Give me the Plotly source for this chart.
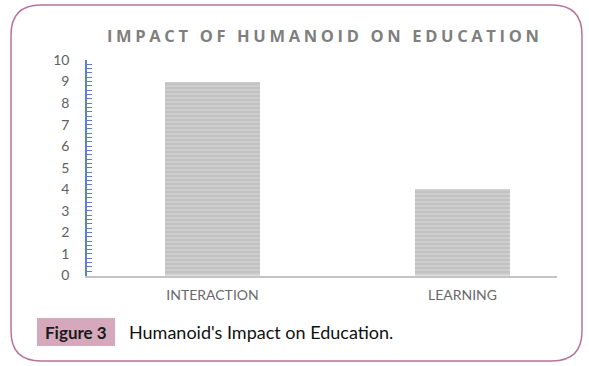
import plotly.graph_objects as go

categories = ["INTERACTION", "LEARNING"]
values = [9, 4]
title_text = "IMPACT OF HUMANOID ON EDUCATION"
fig_label = "Figure 3"
caption = "Humanoid's Impact on Education."

W, H = 589, 366
def px(x): return x / W
def py(y): return 1 - y / H

FONT = "Lato"

fig = go.Figure()
fig.add_trace(go.Bar(
    x=categories, y=values, width=0.38,
    marker=dict(color="#c6c6c6",
                pattern=dict(shape="-", fgcolor="#e2e2e2", bgcolor="#c2c2c2", size=4, solidity=0.4),
                line=dict(width=0)),
    hoverinfo="skip",
))

# rounded frame
r = 30
x0, x1, y0, y1 = 11, 582, 5, 361
rx, ry = r / W, r / H
path = (f"M {px(x0)+rx},{py(y0)} L {px(x1)-rx},{py(y0)} Q {px(x1)},{py(y0)} {px(x1)},{py(y0)-ry} "
        f"L {px(x1)},{py(y1)+ry} Q {px(x1)},{py(y1)} {px(x1)-rx},{py(y1)} "
        f"L {px(x0)+rx},{py(y1)} Q {px(x0)},{py(y1)} {px(x0)},{py(y1)+ry} "
        f"L {px(x0)},{py(y0)-ry} Q {px(x0)},{py(y0)} {px(x0)+rx},{py(y0)} Z")
fig.add_shape(type="path", path=path, xref="paper", yref="paper",
              line=dict(color="#b9739a", width=1.5), fillcolor="rgba(0,0,0,0)", layer="below")
# caption box
fig.add_shape(type="rect", xref="paper", yref="paper",
              x0=px(37), x1=px(115), y0=py(346), y1=py(318),
              fillcolor="#d5a8bb", line=dict(width=0), layer="below")

fig.add_annotation(text=f'<span style="letter-spacing:3.65px">{title_text}</span>',
                   x=px(325), y=py(35), xref="paper", yref="paper", showarrow=False,
                   xanchor="center", yanchor="middle",
                   font=dict(family="Open Sans", size=16.5, color="#7f7f7f", weight="bold"))
fig.add_annotation(text=f"<b>{fig_label}</b>", x=px(76), y=py(332), xref="paper", yref="paper",
                   showarrow=False, xanchor="center", yanchor="middle",
                   font=dict(family=FONT, size=17, color="#1a1a1a"))
fig.add_annotation(text=caption, x=px(127), y=py(332), xref="paper", yref="paper",
                   showarrow=False, xanchor="left", yanchor="middle",
                   font=dict(family=FONT, size=18, color="#111111"))

fig.update_layout(
    width=W, height=H, margin=dict(l=0, r=0, t=0, b=0),
    paper_bgcolor="white", plot_bgcolor="white", showlegend=False,
    bargap=0,
    xaxis=dict(domain=[px(87), px(557)], range=[-0.502, 1.378], type="category",
               automargin=False,
               showline=True, linecolor="#c4c4c4", linewidth=2, showgrid=False, zeroline=False,
               ticks="", tickfont=dict(family=FONT, size=14, color="#6a6a6a"),
               ticklabelstandoff=6),
    yaxis=dict(domain=[py(275.5), py(60)], range=[0, 10], dtick=1,
               automargin=False,
               showline=True, linecolor="#5b84c8", linewidth=1.5, showgrid=False, zeroline=False,
               ticks="inside", ticklen=5, tickcolor="#5b84c8", tickwidth=1,
               minor=dict(dtick=0.2, ticks="inside", ticklen=5, tickcolor="#5b84c8", tickwidth=1),
               tickfont=dict(family=FONT, size=14, color="#606060"),
               ticklabelstandoff=13),
)

fig.write_html("out.html")
